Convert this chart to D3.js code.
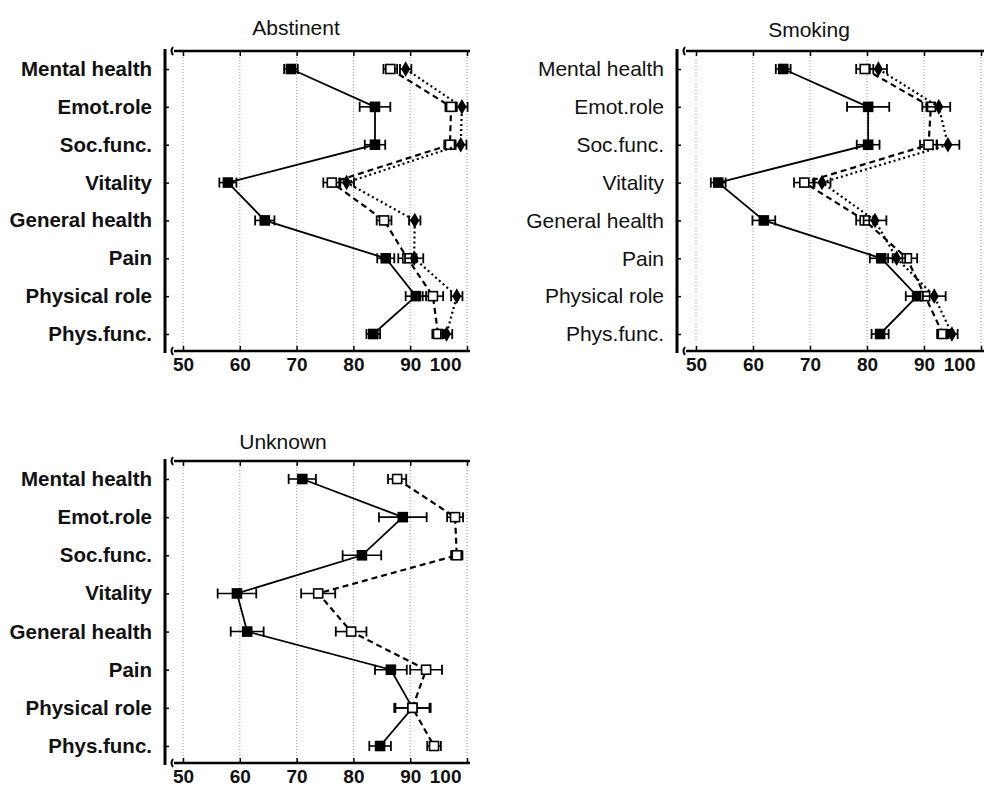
<!DOCTYPE html>
<html>
<head>
<meta charset="utf-8">
<script src="https://cdn.jsdelivr.net/npm/d3@7"></script>
<style>
  body { margin: 0; background: #fff; }
  text { font-family: "Liberation Sans", Arial, sans-serif; }
</style>
</head>
<body>
<div id="chart"></div>
<script>
var categories = ["Mental health", "Emot.role", "Soc.func.", "Vitality", "General health", "Pain", "Physical role", "Phys.func."];
var xTicks = [50, 60, 70, 80, 90, 100];

// Abstinent
var absSolid = [69, 83.8, 83.8, 57.9, 64.4, 85.7, 91, 83.5];
var absSolidErr = [1.2, 2.7, 1.8, 1.5, 1.7, 1.5, 1.8, 1.2];
var absDashed = [86.5, 97.2, 97, 76.2, 85.4, 89.5, 94, 94.9];
var absDashedErr = [1.2, 1, 1, 1.5, 1.3, 1.6, 1.8, 1];
var absDotted = [89.2, 99.1, 98.9, 78.8, 90.8, 90.7, 98.2, 96.4];
var absDottedErr = [1, 1, 1, 1.3, 1, 1.6, 1, 1];

// Smoking
var smkSolid = [65.3, 80.2, 80.2, 53.9, 61.9, 82.5, 88.8, 82.3];
var smkSolidErr = [1.3, 3.7, 2, 1.3, 2, 2, 2, 1.5];
var smkDashed = [79.6, 91.2, 90.8, 69, 79.6, 87, 90.2, 93.3];
var smkDashedErr = [1.5, 1.5, 1.5, 1.8, 1.5, 1.8, 1.5, 1];
var smkDotted = [82, 92.6, 94.2, 72.1, 81.4, 85.2, 91.8, 94.9];
var smkDottedErr = [1.5, 2, 2, 1.5, 2, 1.5, 2, 1];

// Unknown
var unkSolid = [71, 88.7, 81.5, 59.5, 61.3, 86.6, 90.4, 84.7];
var unkSolidErr = [2.4, 4.2, 3.4, 3.4, 2.9, 2.8, 3.2, 1.9];
var unkDashed = [87.7, 97.9, 98.2, 73.8, 79.6, 92.8, 90.4, 94.2];
var unkDashedErr = [1.6, 1.4, 1, 3, 2.7, 2.8, 3, 1.2];

var svg = d3.select("#chart").append("svg")
    .attr("width", 1008)
    .attr("height", 796);

function zip(vals, errs) {
    return vals.map(function (v, i) { return { c: categories[i], v: v, e: errs[i] }; });
}

function drawPanel(p) {
    var x = d3.scaleLinear().domain([50, 100]).range([p.x50, p.x100]);
    var y = d3.scalePoint().domain(categories).range([p.top + 18, p.bottom - 17]);
    var L = p.left, R = p.x100 + 3;
    var g = svg.append("g");

    // dotted grid
    g.selectAll(".grid").data(xTicks).enter().append("line")
        .attr("x1", function (d) { return x(d); })
        .attr("x2", function (d) { return x(d); })
        .attr("y1", p.top)
        .attr("y2", p.bottom)
        .attr("stroke", "#9a9a9a")
        .attr("stroke-width", 1)
        .attr("stroke-dasharray", "1,2");

    // frame
    g.append("line").attr("x1", L).attr("x2", L).attr("y1", p.top - 2).attr("y2", p.bottom + 2)
        .attr("stroke", "#000").attr("stroke-width", 3);
    g.append("line").attr("x1", L + 9).attr("x2", R).attr("y1", p.top).attr("y2", p.top)
        .attr("stroke", "#000").attr("stroke-width", 2.5);
    g.append("line").attr("x1", L + 9).attr("x2", R).attr("y1", p.bottom).attr("y2", p.bottom)
        .attr("stroke", "#000").attr("stroke-width", 2.5);
    [p.top, p.bottom].forEach(function (yy) {
        g.append("path")
            .attr("d", "M" + (L + 8) + "," + (yy - 4) + " Q" + (L + 5) + "," + yy + " " + (L + 8) + "," + (yy + 4))
            .attr("fill", "none").attr("stroke", "#000").attr("stroke-width", 2);
    });

    // y axis
    var yAx = g.append("g")
        .attr("transform", "translate(" + L + ",0)")
        .call(d3.axisLeft(y).tickSize(-4).tickPadding(13));
    yAx.select(".domain").remove();
    yAx.selectAll(".tick line").attr("stroke-width", 1.5);
    yAx.selectAll("text")
        .attr("font-size", p.boldY ? "20.5px" : "21px")
        .attr("font-weight", p.boldY ? "bold" : "normal")
        .attr("fill", "#111");

    // x axes
    var topAx = g.append("g")
        .attr("transform", "translate(0," + p.top + ")")
        .call(d3.axisTop(x).tickValues(xTicks).tickSize(-5).tickFormat(""));
    topAx.select(".domain").remove();
    topAx.selectAll(".tick line").attr("stroke-width", 1.5);
    var botAx = g.append("g")
        .attr("transform", "translate(0," + p.bottom + ")")
        .call(d3.axisBottom(x).tickValues(xTicks).tickSize(-5).tickPadding(7));
    botAx.select(".domain").remove();
    botAx.selectAll(".tick line").attr("stroke-width", 1.5);
    botAx.selectAll("text")
        .attr("font-size", "19px")
        .attr("font-weight", "bold")
        .attr("fill", "#111");
    // last label kept inside the frame, as in the original
    botAx.selectAll("text").filter(function (d) { return d === 100; })
        .attr("text-anchor", "end")
        .attr("x", -6);

    // title
    g.append("text")
        .attr("x", p.titleX)
        .attr("y", p.titleY)
        .attr("text-anchor", "middle")
        .attr("font-size", "21px")
        .attr("fill", "#111")
        .text(p.title);

    var line = d3.line()
        .x(function (d) { return x(d.v); })
        .y(function (d) { return y(d.c); });

    p.series.forEach(function (s) {
        var data = zip(s.vals, s.errs);
        g.append("path")
            .datum(data)
            .attr("d", line)
            .attr("fill", "none")
            .attr("stroke", "#000")
            .attr("stroke-width", s.dash ? 2.2 : 1.8)
            .attr("stroke-dasharray", s.dash);

        var eb = g.selectAll(null).data(data).enter().append("g");
        eb.append("line")
            .attr("x1", function (d) { return x(d.v - d.e); })
            .attr("x2", function (d) { return x(d.v + d.e); })
            .attr("y1", function (d) { return y(d.c); })
            .attr("y2", function (d) { return y(d.c); })
            .attr("stroke", "#000").attr("stroke-width", 1.6);
        [-1, 1].forEach(function (k) {
            eb.append("line")
                .attr("x1", function (d) { return x(d.v + k * d.e); })
                .attr("x2", function (d) { return x(d.v + k * d.e); })
                .attr("y1", function (d) { return y(d.c) - 5; })
                .attr("y2", function (d) { return y(d.c) + 5; })
                .attr("stroke", "#000").attr("stroke-width", 1.8);
        });

        if (s.marker === "diamond") {
            eb.append("path")
                .attr("d", d3.symbol().type(d3.symbolDiamond).size(70))
                .attr("transform", function (d) { return "translate(" + x(d.v) + "," + y(d.c) + ")"; })
                .attr("fill", "#000");
        } else {
            eb.append("rect")
                .attr("x", function (d) { return x(d.v) - 4.5; })
                .attr("y", function (d) { return y(d.c) - 4.5; })
                .attr("width", 9)
                .attr("height", 9)
                .attr("fill", s.marker === "open" ? "#fff" : "#000")
                .attr("stroke", "#000")
                .attr("stroke-width", 1.6);
        }
    });
}

drawPanel({
    title: "Abstinent", titleX: 296, titleY: 35,
    left: 165, top: 51, bottom: 351, x50: 183, x100: 467, boldY: true,
    series: [
        { vals: absSolid, errs: absSolidErr, marker: "filled", dash: null },
        { vals: absDashed, errs: absDashedErr, marker: "open", dash: "6,4" },
        { vals: absDotted, errs: absDottedErr, marker: "diamond", dash: "2,3" }
    ]
});

drawPanel({
    title: "Smoking", titleX: 809, titleY: 37,
    left: 677, top: 51, bottom: 351, x50: 696, x100: 981, boldY: false,
    series: [
        { vals: smkSolid, errs: smkSolidErr, marker: "filled", dash: null },
        { vals: smkDashed, errs: smkDashedErr, marker: "open", dash: "6,4" },
        { vals: smkDotted, errs: smkDottedErr, marker: "diamond", dash: "2,3" }
    ]
});

drawPanel({
    title: "Unknown", titleX: 283, titleY: 449,
    left: 165, top: 461, bottom: 763, x50: 183, x100: 467, boldY: true,
    series: [
        { vals: unkSolid, errs: unkSolidErr, marker: "filled", dash: null },
        { vals: unkDashed, errs: unkDashedErr, marker: "open", dash: "6,4" }
    ]
});
</script>
</body>
</html>
